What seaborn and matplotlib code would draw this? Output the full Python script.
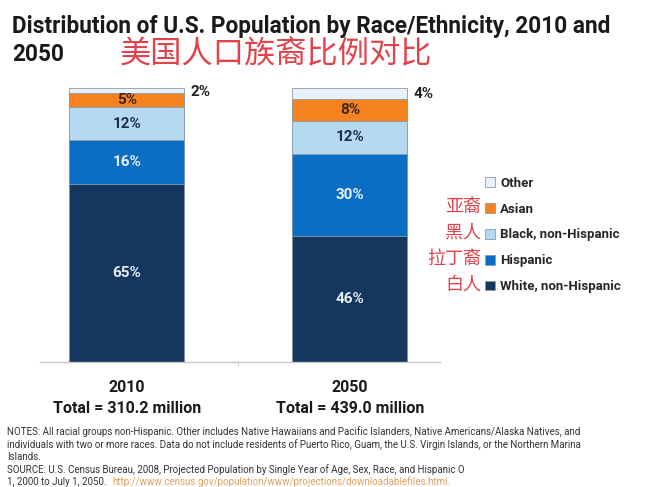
import numpy as np
import pandas as pd
import matplotlib
matplotlib.use("Agg")
import matplotlib.pyplot as plt
import seaborn as sns
from matplotlib.patches import Patch

# data
years = ["2010", "2050"]
totals = ["310.2", "439.0"]
groups = ["White, non-Hispanic", "Hispanic", "Black, non-Hispanic", "Asian", "Other"]
pct_2010 = [65, 16, 12, 5, 2]
pct_2050 = [46, 30, 12, 8, 4]

colors = ["#15365f", "#0a6fc4", "#b4d9f1", "#f5821f", "#e9f2fb"]
label_colors = ["#e8eef6", "#e8eef6", "#1d2f48", "#3b2614", "#222222"]

sns.set_style("white")
plt.rcParams["font.family"] = ["Roboto", "DejaVu Sans", "Noto Sans CJK SC"]
cn_font = ["Noto Sans CJK SC", "DejaVu Sans"]

df = pd.DataFrame({"year": years * len(groups),
                   "group": np.repeat(groups, 2),
                   "pct": [v for pair in zip(pct_2010, pct_2050) for v in pair]})
df["cum"] = df.groupby("year")["pct"].cumsum()

fig = plt.figure(figsize=(6.5, 4.87), dpi=100)
ax = fig.add_axes([40 / 650, 1 - 362 / 487, 400 / 650, 274 / 487])

# stacked bars: draw cumulative totals from the top layer down
for i in range(len(groups) - 1, -1, -1):
    sub = df[df["group"] == groups[i]]
    sns.barplot(data=sub, x="year", y="cum", order=years, color=colors[i],
                width=0.516, saturation=1, edgecolor="#8a9bb0", linewidth=0.6, ax=ax)

ax.set_xlim(-0.39, 1.404)
ax.set_ylim(0, 100)
ax.set_xlabel("")
ax.set_ylabel("")
ax.set_yticks([])
for s in ["top", "right", "left"]:
    ax.spines[s].set_visible(False)
ax.spines["bottom"].set_color("#c8c8c8")
ax.spines["bottom"].set_linewidth(1)
ax.set_xticks([0, 1])
ax.set_xticklabels([f"{y}\nTotal = {t} million" for y, t in zip(years, totals)],
                   fontsize=11.5, fontweight="bold", color="#1a1a1a", linespacing=1.5)
ax.set_xticks([0.5], minor=True)
ax.tick_params(axis="x", which="major", length=0, pad=13)
ax.tick_params(axis="x", which="minor", length=3, color="#c8c8c8", bottom=True)

# segment labels
for j, vals in enumerate([pct_2010, pct_2050]):
    base = 0
    for i, v in enumerate(vals):
        if groups[i] == "Other":
            ax.text(j + 0.285, base + v / 2 - 0.3, f"{v}%", ha="left", va="center",
                    fontsize=11, fontweight="bold", color=label_colors[i])
        else:
            ax.text(j, base + v / 2, f"{v}%", ha="center", va="center",
                    fontsize=11, fontweight="bold", color=label_colors[i])
        base += v

# legend (top = Other)
handles = [Patch(facecolor=colors[i], edgecolor="#8a9bb0", linewidth=0.6, label=groups[i])
           for i in range(len(groups) - 1, -1, -1)]
fig.legend(handles=handles, loc="upper left", bbox_to_anchor=(473 / 650, 1 - 165 / 487),
           frameon=False, handlelength=0.75, handleheight=0.75,
           handletextpad=0.4, labelspacing=0.97, prop={"weight": "bold", "size": 9.5})
legend_y = [207, 233, 259, 285]
for name, y in zip(["亚裔", "黑人", "拉丁裔", "白人"], legend_y):
    fig.text(481 / 650, 1 - y / 487, name, ha="right", va="center", fontsize=13,
             color="#e0434c", family=cn_font)

# titles
fig.text(12 / 650, 1 - 15 / 487, "Distribution of U.S. Population by Race/Ethnicity, 2010 and",
         ha="left", va="top", fontsize=16.3, fontweight="bold", color="#1a1a1a")
fig.text(12 / 650, 1 - 43 / 487, "2050", ha="left", va="top", fontsize=16.3,
         fontweight="bold", color="#1a1a1a")
fig.text(120 / 650, 1 - 54 / 487, "美国人口族裔比例对比", ha="left", va="center",
         fontsize=22.5, color="#e0434c", family=cn_font)

# notes
notes = [
    "NOTES: All racial groups non-Hispanic. Other includes Native Hawaiians and Pacific Islanders, Native Americans/Alaska Natives, and",
    "individuals with two or more races. Data do not include residents of Puerto Rico, Guam, the U.S. Virgin Islands, or the Northern Marina",
    "Islands.",
    "SOURCE: U.S. Census Bureau, 2008, Projected Population by Single Year of Age, Sex, Race, and Hispanic O",
]
for k, line in enumerate(notes):
    fig.text(7 / 650, 1 - (432 + 12.5 * k) / 487, line, ha="left", va="center",
             fontsize=7, color="#333333")
fig.text(7 / 650, 1 - 482 / 487, "1, 2000 to July 1, 2050.", ha="left", va="center",
         fontsize=7, color="#333333")
fig.text(112 / 650, 1 - 482 / 487,
         "http://www.census.gov/population/www/projections/downloadablefiles.html.",
         ha="left", va="center", fontsize=7, color="#e0a060")

fig.savefig("out.png", dpi=100)
